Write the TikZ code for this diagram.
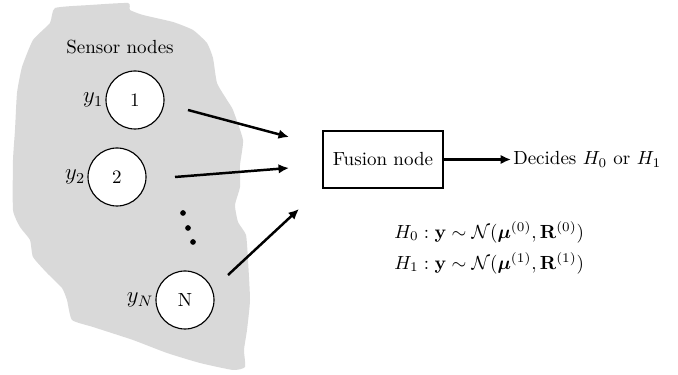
\documentclass[tikz,border=0pt]{standalone}
\usepackage{amsmath}
\usetikzlibrary{arrows.meta}
\begin{document}
\begin{tikzpicture}[x=0.526pt,y=-0.526pt,
  sensor/.style={circle,draw,fill=white,line width=0.6pt,minimum size=30.5pt,inner sep=0pt},
  conn/.style={line width=1.3pt,-{Latex[length=5.5pt,width=5pt]}},
  ylab/.style={anchor=east,inner sep=1pt,font=\large},
  dotmark/.style={circle,fill=black,inner sep=0pt,minimum size=3pt}]
\useasboundingbox (0,0) rectangle (678,375);
% blob
\fill[black!15] plot[smooth cycle,tension=0.3] coordinates {
 (55,8) (90,5) (128,3) (130,10) (143,15) (173,22) (193,30) (207,43) (213,58) (217,83)
 (227,100) (233,110) (243,140) (240,165) (240,187) (235,205) (238,222) (246,235)
 (248,260) (250,300) (247,330) (244,350) (245,367) (233,370) (200,363) (167,353)
 (133,340) (93,327) (72,320) (67,300) (62,288) (47,273) (33,257) (30,240) (20,227)
 (13,210) (13,160) (15,130) (17,93) (22,67) (33,40) (50,23)};
\node (title) at (120,47) {Sensor nodes};
\node[sensor] (s1) at (135,100) {1};
\node[sensor] (s2) at (117,177) {2};
\node[sensor] (sN) at (185,300) {N};
\node[ylab] (y1) at (s1.west) {$y_1$};
\node[ylab] (y2) at (s2.west) {$y_2$};
\node[ylab] (yN) at (sN.west) {$y_N$};
\node[dotmark] (d1) at (183,213) {};
\node[dotmark] (d2) at (188,228) {};
\node[dotmark] (d3) at (193,242) {};
\node[draw,line width=1.2pt,minimum width=63pt,minimum height=30pt] (fusion) at (383,159.5) {Fusion node};
\node[anchor=west,inner sep=1pt] (dec) at (511,159.5) {Decides $H_0$ or $H_1$};
\coordinate (a1s) at (188,110); \coordinate (a1e) at (289,137);
\coordinate (a2s) at (175,177); \coordinate (a2e) at (289,168);
\coordinate (a3s) at (228,275); \coordinate (a3e) at (299,209);
\draw[conn] (a1s) -- (a1e);
\draw[conn] (a2s) -- (a2e);
\draw[conn] (a3s) -- (a3e);
\draw[conn] (fusion.east) -- (dec.west);
\node[anchor=west,inner sep=0pt] (h0) at (394,232) {$H_0 : \mathbf{y} \sim \mathcal{N}(\boldsymbol{\mu}^{(0)}, \mathbf{R}^{(0)})$};
\node[anchor=west,inner sep=0pt] (h1) at (394,263) {$H_1 : \mathbf{y} \sim \mathcal{N}(\boldsymbol{\mu}^{(1)}, \mathbf{R}^{(1)})$};
\end{tikzpicture}
\end{document}
